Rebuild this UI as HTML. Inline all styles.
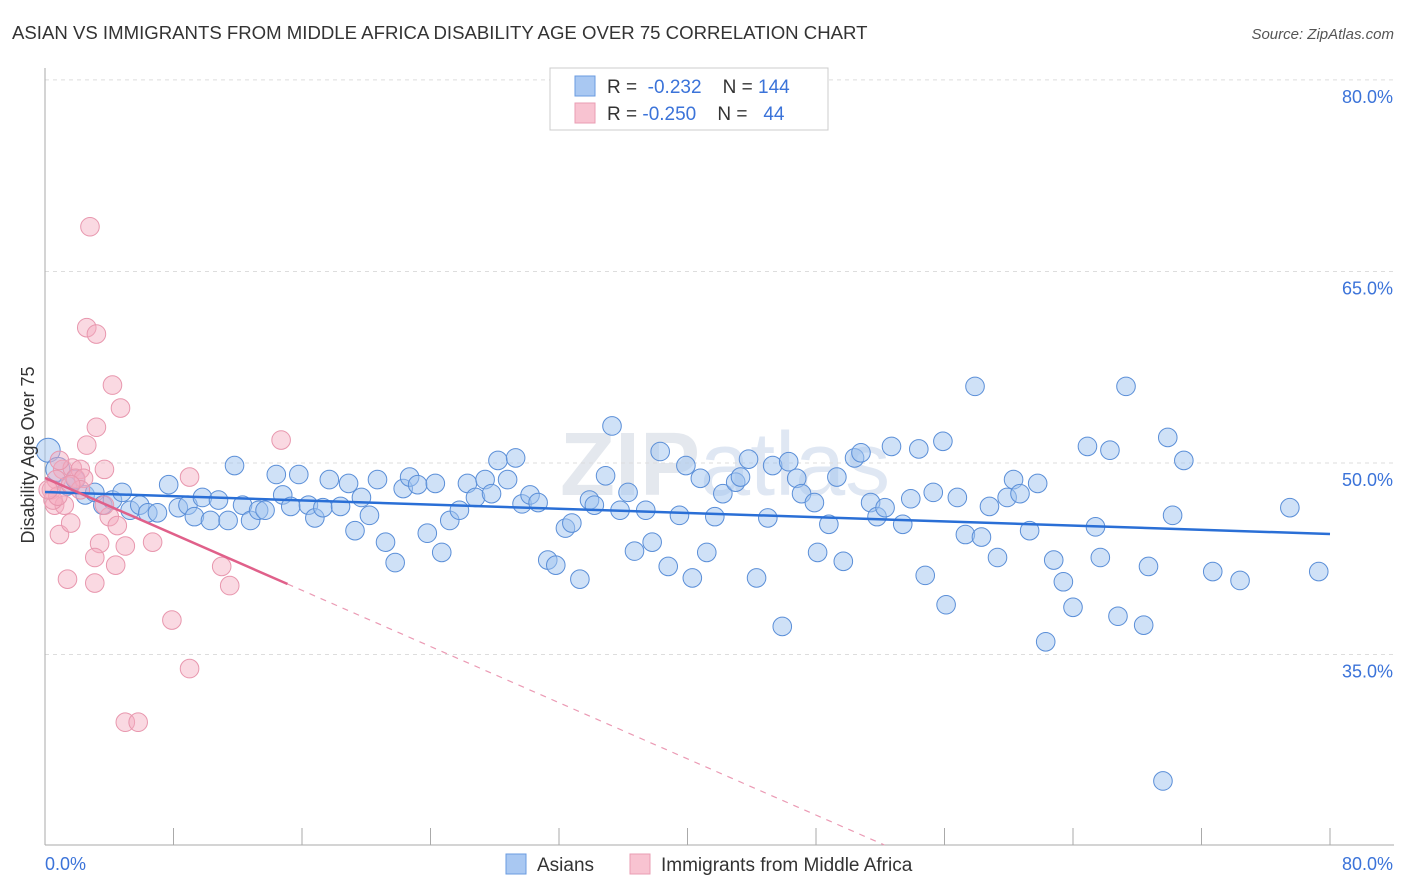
<!DOCTYPE html>
<html><head><meta charset="utf-8"><style>
body{margin:0;background:#fff;font-family:"Liberation Sans",sans-serif;}
svg{display:block}
text{white-space:pre}
</style></head><body>
<svg id="chart" width="1406" height="892" xmlns="http://www.w3.org/2000/svg">
<text x="12" y="39" font-size="18.6" fill="#333">ASIAN VS IMMIGRANTS FROM MIDDLE AFRICA DISABILITY AGE OVER 75 CORRELATION CHART</text>
<text x="1394" y="39" font-size="15" fill="#555" text-anchor="end" font-style="italic">Source: ZipAtlas.com</text>
<text x="560" y="495" font-size="90" fill="#e4e8ee" font-weight="bold">ZIP<tspan font-weight="normal" fill="#dfe7f3">atlas</tspan></text>
<g id="grid"></g>
<g id="axes"></g>
<g id="pts"></g>
<g id="trends"></g>
<text transform="translate(34,455) rotate(-90)" font-size="18" fill="#333" text-anchor="middle">Disability Age Over 75</text>
<text x="45" y="870" font-size="18" fill="#3b73d9">0.0%</text>
<text x="1393" y="870" font-size="18" fill="#3b73d9" text-anchor="end">80.0%</text>
<g>
<rect x="550" y="68" width="278" height="62" fill="#fff" stroke="#ccc"/>
<rect x="575" y="76" width="20" height="20" fill="#a9c8f2" stroke="#6a9be0"/>
<rect x="575" y="103" width="20" height="20" fill="#f8c3d1" stroke="#ea9cb3"/>
<text x="607" y="93" font-size="19" fill="#333">R =  <tspan fill="#3b73d9">-0.232</tspan>    N = <tspan fill="#3b73d9">144</tspan></text>
<text x="607" y="120" font-size="19" fill="#333">R = <tspan fill="#3b73d9">-0.250</tspan>    N =   <tspan fill="#3b73d9">44</tspan></text>
</g>
<g>
<rect x="506" y="854" width="20" height="20" fill="#a9c8f2" stroke="#6a9be0"/>
<text x="537" y="871" font-size="19" fill="#333">Asians</text>
<rect x="630" y="854" width="20" height="20" fill="#f8c3d1" stroke="#ea9cb3"/>
<text x="661" y="871" font-size="19" fill="#333">Immigrants from Middle Africa</text>
</g>
</svg>
<script>
const yTicks=[35,50,65,80];
const yTickLabels=["35.0%","50.0%","65.0%","80.0%"];
const xTicks=[0,8,16,24,32,40,48,56,64,72,80];
const asianX=[0.2,0.8,1.4,1.9,2.5,3.1,3.6,4.2,4.8,5.3,5.9,6.4,7.0,7.7,8.3,8.9,9.3,9.8,10.3,10.8,11.4,11.8,12.3,12.8,13.3,13.7,14.4,14.8,15.3,15.8,16.4,16.8,17.3,17.7,18.4,18.9,19.3,19.7,20.2,20.7,21.2,21.8,22.3,22.7,23.2,23.8,24.3,24.7,25.2,25.8,26.3,26.8,27.4,27.8,28.2,28.8,29.3,29.7,30.2,30.7,31.3,31.8,32.4,32.8,33.3,33.9,34.2,34.9,35.3,35.8,36.3,36.7,37.4,37.8,38.3,38.8,39.5,39.9,40.3,40.8,41.2,41.7,42.2,43.0,43.3,43.8,44.3,45.0,45.3,45.9,46.3,46.8,47.1,47.9,48.1,48.8,49.3,49.7,50.4,50.8,51.4,51.8,52.3,52.7,53.4,53.9,54.4,54.8,55.3,55.9,56.1,56.8,57.3,57.9,58.3,58.8,59.3,59.9,60.3,60.7,61.3,61.8,62.3,62.8,63.4,64.0,64.9,65.4,65.7,66.3,66.8,67.3,68.4,68.7,69.9,70.2,70.9,72.7,74.4,77.5,79.3,69.6];
const asianY=[51.0,49.5,48.2,48.7,47.5,47.7,46.7,47.1,47.7,46.3,46.7,46.1,46.1,48.3,46.5,46.7,45.8,47.3,45.5,47.1,45.5,49.8,46.7,45.5,46.3,46.3,49.1,47.5,46.6,49.1,46.7,45.7,46.5,48.7,46.6,48.4,44.7,47.3,45.9,48.7,43.8,42.2,48.0,48.9,48.3,44.5,48.4,43.0,45.5,46.3,48.4,47.3,48.7,47.6,50.2,48.7,50.4,46.8,47.5,46.9,42.4,42.0,44.9,45.3,40.9,47.1,46.7,49.0,52.9,46.3,47.7,43.1,46.3,43.8,50.9,41.9,45.9,49.8,41.0,48.8,43.0,45.8,47.6,48.5,48.9,50.3,41.0,45.7,49.8,37.2,50.1,48.8,47.6,46.9,43.0,45.2,48.9,42.3,50.4,50.8,46.9,45.8,46.5,51.3,45.2,47.2,51.1,41.2,47.7,51.7,38.9,47.3,44.4,56.0,44.2,46.6,42.6,47.3,48.7,47.6,44.7,48.4,36.0,42.4,40.7,38.7,51.3,45.0,42.6,51.0,38.0,56.0,37.3,41.9,52.0,45.9,50.2,41.5,40.8,46.5,41.5,25.1];
const africaX=[2.8,2.6,3.2,4.2,4.7,14.7,3.2,2.6,1.1,1.7,2.2,3.7,9.0,0.7,0.4,0.6,1.2,1.9,2.4,0.9,1.6,4.0,3.7,4.5,5.0,3.4,3.1,4.4,6.7,1.4,3.1,11.0,11.5,7.9,9.0,5.0,5.8,0.5,0.8,0.2,2.2,1.6,0.9];
const africaY=[68.5,60.6,60.1,56.1,54.3,51.8,52.8,51.4,49.5,49.6,49.5,49.5,48.9,48.7,47.9,46.7,46.7,48.8,48.8,44.4,45.3,45.8,46.7,45.1,43.5,43.7,42.6,42.0,43.8,40.9,40.6,41.9,40.4,37.7,33.9,29.7,29.7,47.1,47.4,47.9,47.9,48.3,50.2];
const asianTrend=[47.73,44.44];
const africaTrend=[48.83,-0.55];
const NS="http://www.w3.org/2000/svg";
const X0=45,X1=1330,YB=845;
function sx(v){return X0+(X1-X0)*v/80;}
function sy(v){return 463-(v-50)*12.77;}
function mk(tag,attrs,parent){const e=document.createElementNS(NS,tag);for(const k in attrs)e.setAttribute(k,attrs[k]);parent.appendChild(e);return e;}
const grid=document.getElementById('grid'),axes=document.getElementById('axes'),pts=document.getElementById('pts'),tr=document.getElementById('trends');
yTicks.forEach((t,i)=>{
 const l=mk('line',{x1:X0,x2:1394,y1:sy(t),y2:sy(t),stroke:'#ddd','stroke-dasharray':'4,4'},grid);
 
 
 const tx=mk('text',{x:1393,y:sy(t)+23,'font-size':18,fill:'#3b73d9','text-anchor':'end'},grid);
 tx.textContent=yTickLabels[i];
 
 
});
const ax=mk('line',{x1:X0,x2:X0,y1:68,y2:YB,stroke:'#aaa'},axes);


const bx=mk('line',{x1:X0,x2:1394,y1:YB,y2:YB,stroke:'#aaa'},axes);


xTicks.forEach(t=>{
 const l=mk('line',{x1:sx(t),x2:sx(t),y1:828,y2:YB,stroke:'#aaa'},axes);
 
 
});
asianX.forEach((x,i)=>{
 const c=mk('circle',{cx:sx(x),cy:sy(asianY[i]),r:(i<2?12:9.3),fill:'rgba(160,196,240,0.5)',stroke:'#5b8fd8','stroke-width':1},pts);
 
 
});
africaX.forEach((x,i)=>{
 const c=mk('circle',{cx:sx(x),cy:sy(africaY[i]),r:9.3,fill:'rgba(245,170,190,0.45)',stroke:'#e897ae','stroke-width':1},pts);
 
 
});
const bl=mk('line',{x1:sx(0),y1:sy(asianTrend[0]),x2:sx(80),y2:sy(asianTrend[1]),stroke:'#2a6fd6','stroke-width':2.5},tr);


const pf=v=>africaTrend[0]+africaTrend[1]*v;
const solidEnd=15.1;
const yMin=50-(YB-463)/12.77;
const dashEnd=(yMin-africaTrend[0])/africaTrend[1];
const pl=mk('line',{x1:sx(0),y1:sy(pf(0)),x2:sx(solidEnd),y2:sy(pf(solidEnd)),stroke:'#e0608a','stroke-width':2.5},tr);


const pd=mk('line',{x1:sx(solidEnd),y1:sy(pf(solidEnd)),x2:sx(dashEnd),y2:sy(pf(dashEnd)),stroke:'#eb9ab4','stroke-width':1.2,'stroke-dasharray':'6,6'},tr);


</script>
</body></html>
